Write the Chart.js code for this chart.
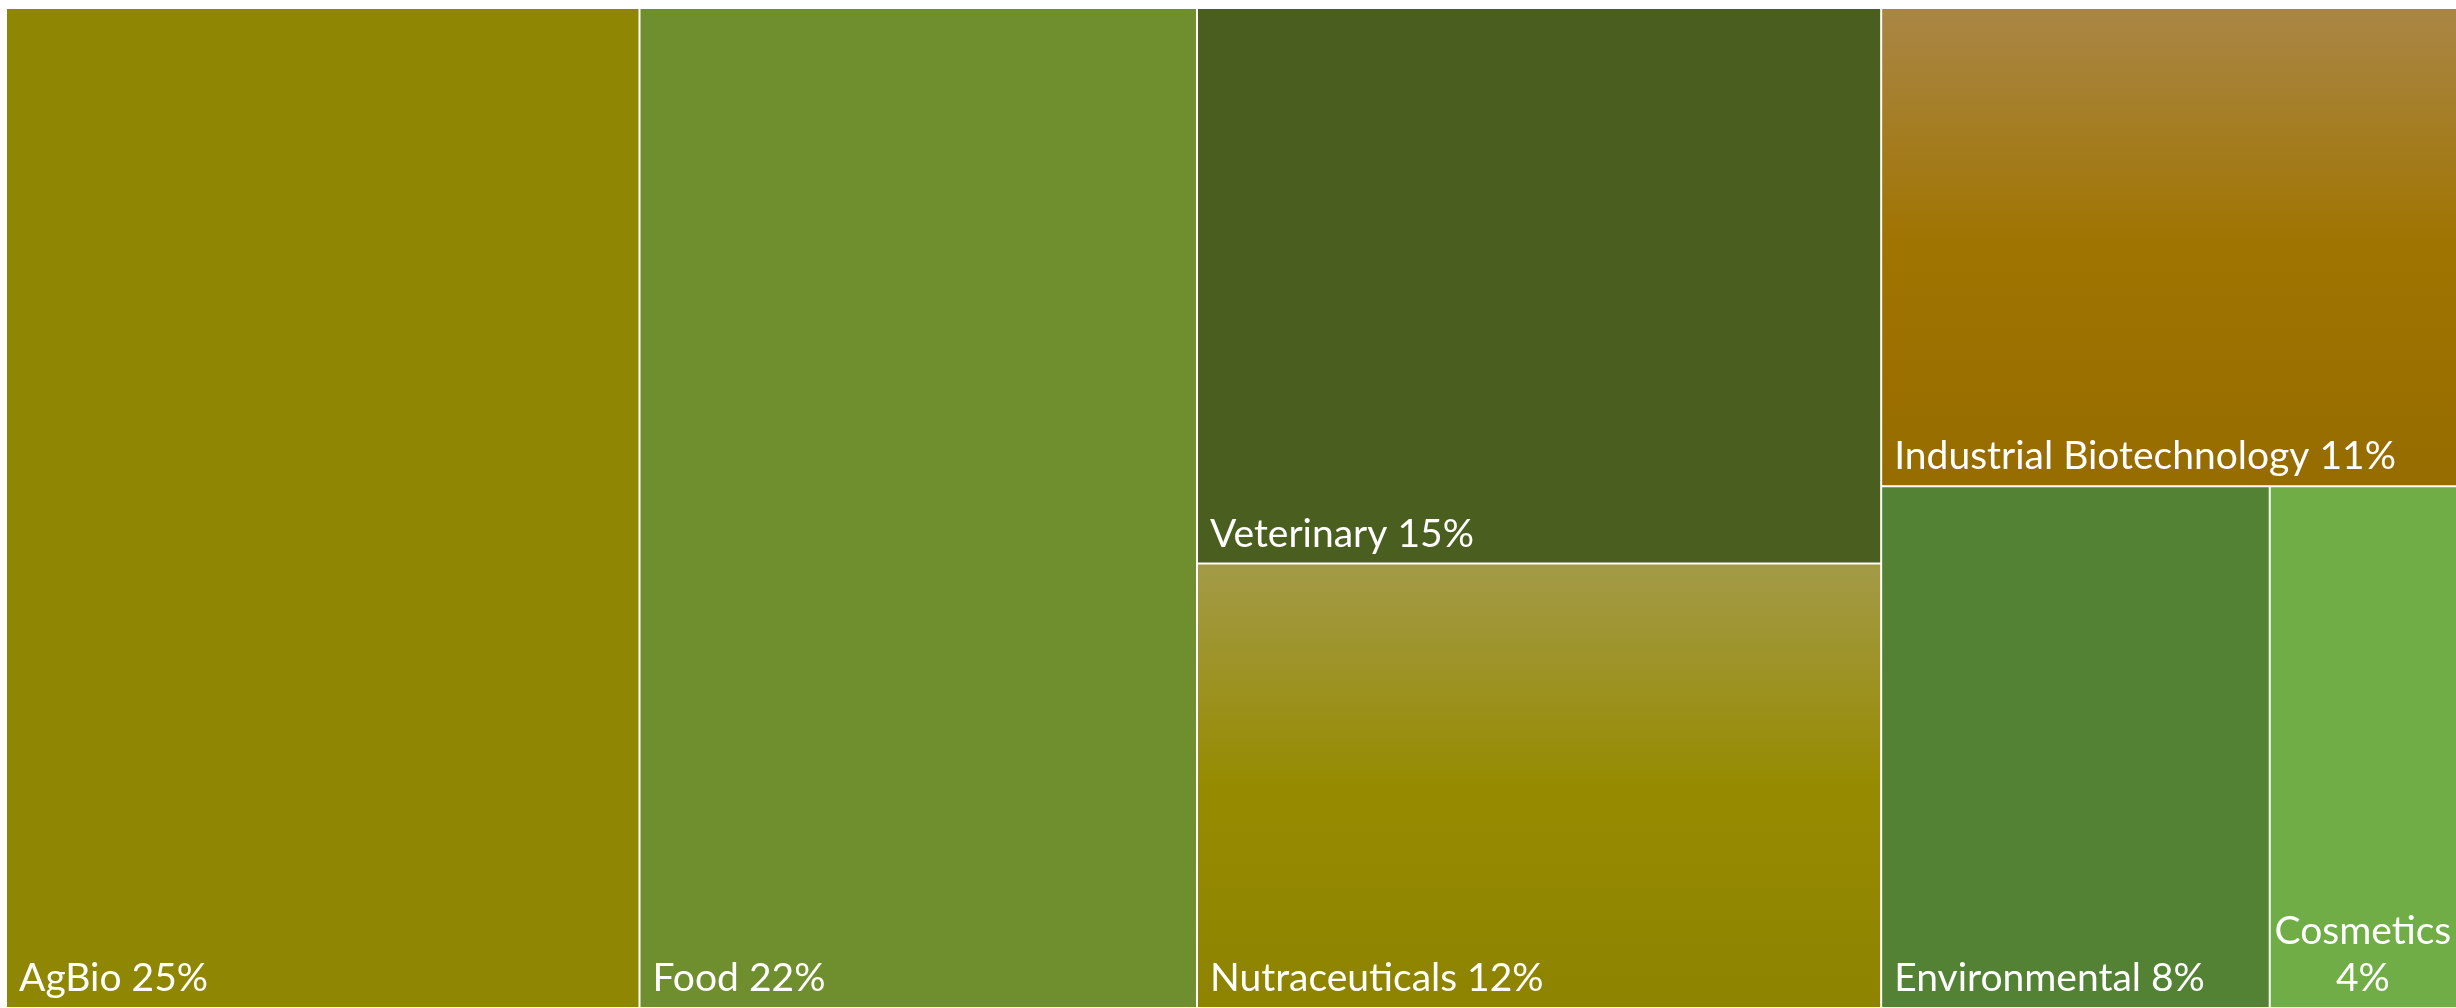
<!DOCTYPE html>
<html>
<head>
<meta charset="utf-8">
<script src="https://cdn.jsdelivr.net/npm/chart.js@4.4.1/dist/chart.umd.min.js"></script>
<style>
  html, body { margin: 0; padding: 0; background: #ffffff; overflow: hidden; }
  #wrap { position: absolute; left: 0; top: 0; width: 2464px; height: 1008px; }
</style>
</head>
<body>
<div id="wrap"><canvas id="chart"></canvas></div>
<script>
// market segments and their share (%)
const categories = ['AgBio', 'Food', 'Veterinary', 'Nutraceuticals', 'Industrial Biotechnology', 'Environmental', 'Cosmetics'];
const shares = [25, 22, 15, 12, 11, 8, 4];

// fill colours: [top, middle, bottom] of each cell
const fills = [
  ['#8f8703', '#8f8703', '#8f8703'],
  ['#6f8f2f', '#6f8f2f', '#6f8f2f'],
  ['#4a5f1f', '#4a5f1f', '#4a5f1f'],
  ['#a39a48', '#968b00', '#8e8300'],
  ['#a98646', '#a07400', '#966c00'],
  ['#548235', '#548235', '#548235'],
  ['#70ad47', '#70ad47', '#70ad47']
];

function worst(row, side) {
  const s = row.reduce((a, b) => a + b, 0);
  const mx = Math.max(...row), mn = Math.min(...row);
  return Math.max(side * side * mx / (s * s), (s * s) / (side * side * mn));
}

// squarified layout inside a pixel rect
function squarify(values, x, y, w, h) {
  const total = values.reduce((a, b) => a + b, 0);
  const k = w * h / total;
  const areas = values.map(v => v * k);
  const out = [];
  let i = 0;
  while (i < areas.length) {
    const side = Math.min(w, h);
    const row = [areas[i]];
    let best = worst(row, side);
    let j = i + 1;
    while (j < areas.length) {
      const next = worst(row.concat(areas[j]), side);
      if (next > best) break;
      row.push(areas[j]);
      best = next;
      j++;
    }
    const sum = row.reduce((a, b) => a + b, 0);
    if (w >= h) {
      const cw = sum / h;
      let yy = y;
      row.forEach(a => { const rh = a / cw; out.push({ x0: x, y0: yy, x1: x + cw, y1: yy + rh }); yy += rh; });
      x += cw; w -= cw;
    } else {
      const rh = sum / w;
      let xx = x;
      row.forEach(a => { const rw = a / rh; out.push({ x0: xx, y0: y, x1: xx + rw, y1: y + rh }); xx += rw; });
      y += rh; h -= rh;
    }
    i = j;
  }
  return out;
}

class TreemapController extends Chart.DatasetController {
  parse(start, count) {
    const meta = this._cachedMeta;
    const data = this.getDataset().data;
    for (let i = start; i < start + count; i++) {
      meta._parsed[i] = { x: i, y: data[i] };
    }
  }

  update(mode) {
    const meta = this._cachedMeta;
    this.updateElements(meta.data, 0, meta.data.length, mode);
  }

  updateElements(rects, start, count, mode) {
    const xs = this._cachedMeta.xScale;
    const ys = this._cachedMeta.yScale;
    const left = xs.getPixelForValue(xs.min);
    const right = xs.getPixelForValue(xs.max);
    const top = ys.getPixelForValue(ys.max);
    const bottom = ys.getPixelForValue(ys.min);
    this._cells = squarify(this.getDataset().data, left, top, right - left, bottom - top);
    for (let i = start; i < start + count; i++) {
      const c = this._cells[i];
      this.updateElement(rects[i], i, {
        x: (c.x0 + c.x1) / 2,
        y: c.y0,
        base: c.y1,
        width: c.x1 - c.x0,
        height: c.y1 - c.y0,
        horizontal: false,
        borderSkipped: {},
        inflateAmount: 0,
        options: this.resolveDataElementOptions(i, mode)
      }, mode);
    }
  }
}
TreemapController.id = 'treemap';
TreemapController.defaults = { datasetElementType: false, dataElementType: 'bar' };
TreemapController.overrides = {
  scales: {
    x: { type: 'linear', min: 0, max: 100, display: false },
    y: { type: 'linear', min: 0, max: 100, display: false }
  }
};
Chart.register(TreemapController);

function cellFill(ctx) {
  const chart = ctx.chart;
  const i = ctx.dataIndex;
  const ctrl = chart.getDatasetMeta(0).controller;
  const c = ctrl && ctrl._cells ? ctrl._cells[i] : null;
  const f = fills[i];
  if (!c || (f[0] === f[1] && f[1] === f[2])) return f[1];
  const g = chart.ctx.createLinearGradient(0, c.y0, 0, c.y1);
  g.addColorStop(0, f[0]);
  g.addColorStop(0.5, f[1]);
  g.addColorStop(1, f[2]);
  return g;
}

const FONT = '39px Lato';
const PAD = 13;
const LINE = 47;

const cellLabels = {
  id: 'cellLabels',
  afterDatasetsDraw(chart) {
    const ctx = chart.ctx;
    const meta = chart.getDatasetMeta(0);
    const visRight = Math.min(chart.width, window.innerWidth || chart.width);
    ctx.save();
    ctx.font = FONT;
    ctx.fillStyle = '#ffffff';
    ctx.textBaseline = 'alphabetic';
    meta.data.forEach((el, i) => {
      const left = el.x - el.width / 2;
      const right = Math.min(el.x + el.width / 2, visRight);
      const bottom = el.base;
      const text = categories[i] + ' ' + shares[i] + '%';
      if (ctx.measureText(text).width + 2 * PAD <= right - left) {
        ctx.textAlign = 'left';
        ctx.fillText(text, left + PAD, bottom - 17);
      } else {
        const lines = text.split(' ');
        ctx.textAlign = 'center';
        const cx = (left + right) / 2;
        lines.forEach((ln, k) => {
          ctx.fillText(ln, cx, bottom - 17 - (lines.length - 1 - k) * LINE);
        });
      }
    });
    ctx.restore();
  }
};

new Chart(document.getElementById('chart'), {
  type: 'treemap',
  data: {
    labels: categories,
    datasets: [{
      data: shares,
      backgroundColor: cellFill,
      borderColor: 'rgba(255,255,255,0.9)',
      borderWidth: 1
    }]
  },
  options: {
    responsive: true,
    maintainAspectRatio: false,
    animation: false,
    events: [],
    layout: { padding: { left: 6, top: 8, right: 0, bottom: 0 } },
    plugins: {
      legend: { display: false },
      tooltip: { enabled: false }
    }
  },
  plugins: [cellLabels]
});
</script>
</body>
</html>
